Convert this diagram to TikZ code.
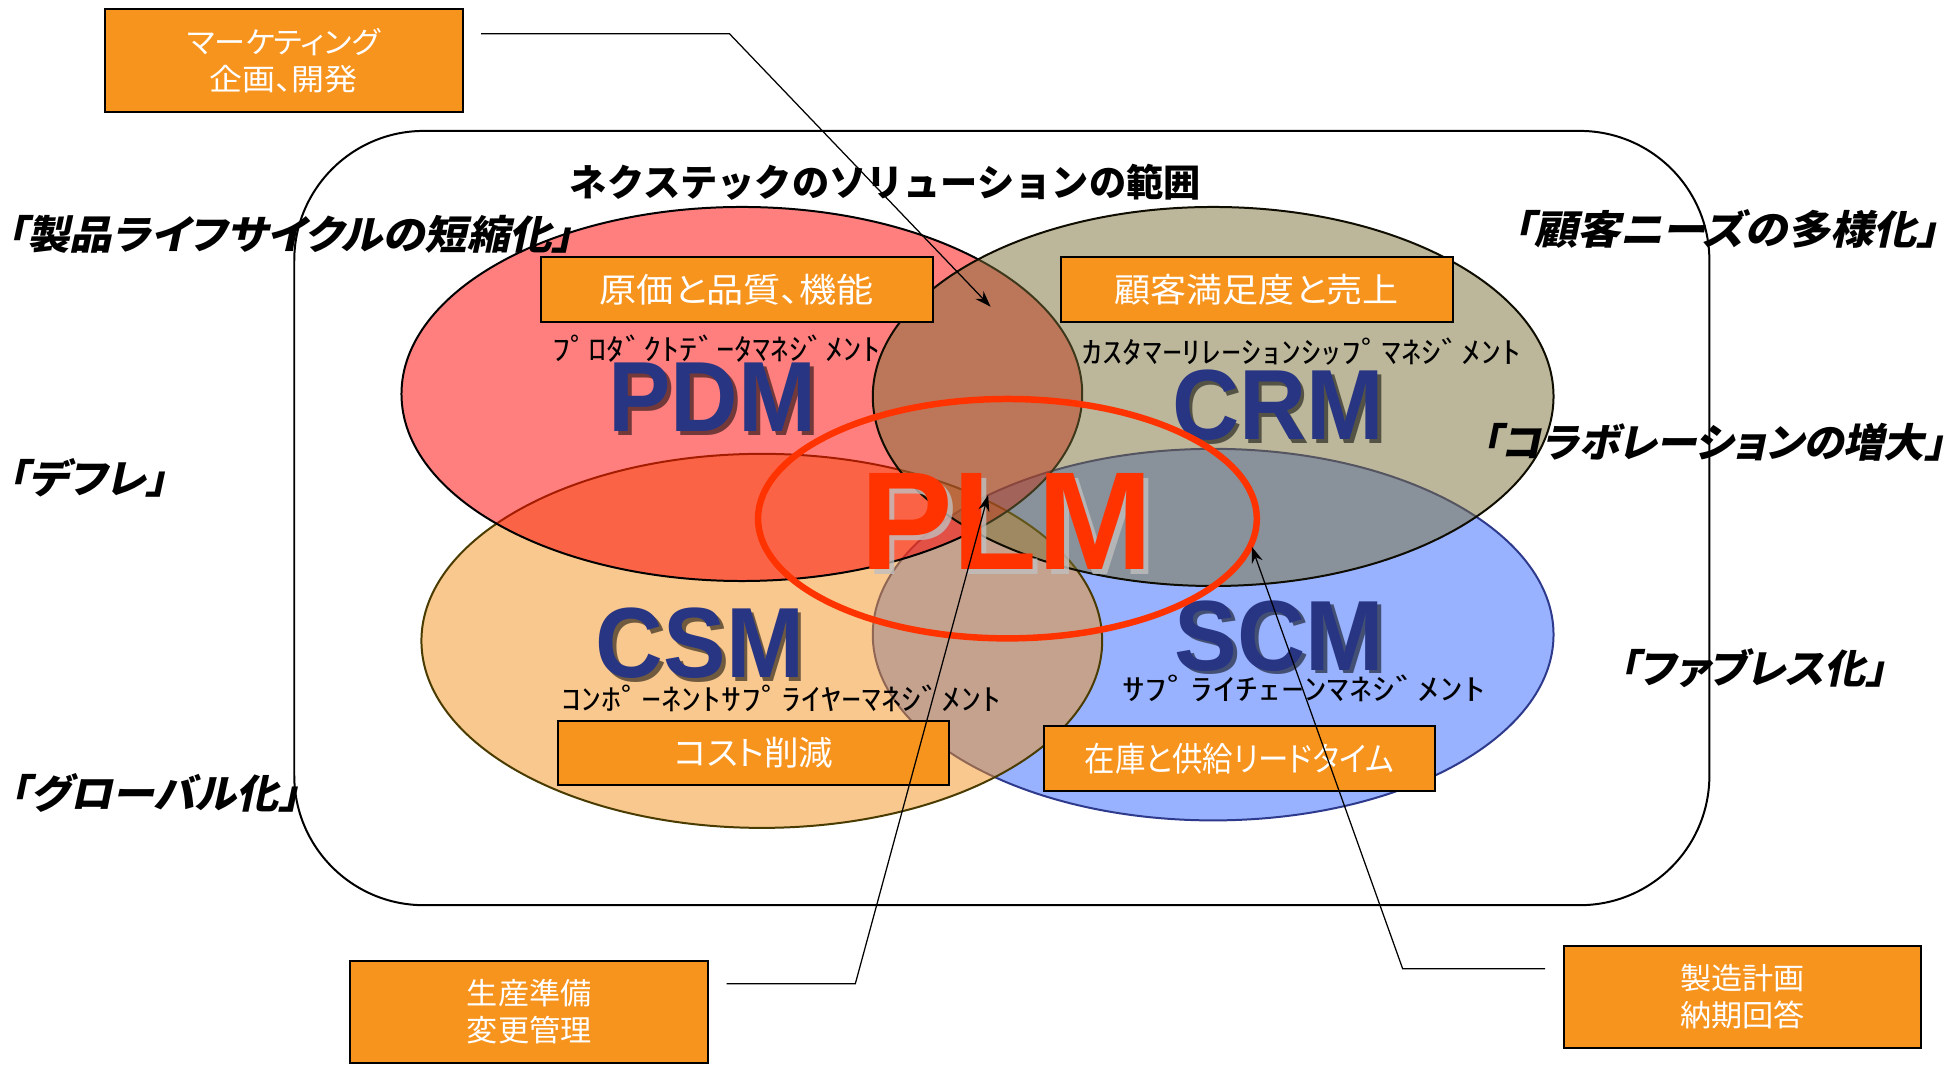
\documentclass[tikz,border=0pt]{standalone}
\usepackage{fontspec}
\usepackage{graphicx}
\usetikzlibrary{arrows.meta,calc}
\setmainfont{Noto Sans CJK JP}
\newfontfamily\jp{Noto Sans CJK JP}
\newfontfamily\jpp[RawFeature=+palt]{Noto Sans CJK JP}
\newfontfamily\jpsl[FakeSlant=0.2,RawFeature=+palt]{Noto Sans CJK JP}
\newfontfamily\lat{Liberation Sans}
\newcommand\fw[2]{\resizebox{\dimexpr #1pt/2\relax}{\height}{#2}}
\definecolor{pdmc}{HTML}{FF0000}
\definecolor{csmc}{HTML}{F3931F}
\definecolor{crmc}{HTML}{7B7137}
\definecolor{scmc}{HTML}{3367FF}
\definecolor{boxc}{HTML}{F7941E}
\definecolor{navyc}{HTML}{283583}
\definecolor{plmr}{HTML}{FF3300}
\definecolor{olivec}{HTML}{4A3C00}
\definecolor{scmb}{HTML}{2E3A8C}
\begin{document}
\begin{tikzpicture}[x=0.5pt,y=-0.5pt,
  obox/.style={draw=black, line width=0.8pt, fill=boxc, text=white, inner sep=0pt,
    align=center, minimum width=157pt, minimum height=26pt,
    font=\jpp\fontsize{13.5}{15}\selectfont},
  obox2/.style={obox, minimum width=143.5pt, minimum height=41pt,
    font=\jpp\fontsize{12}{15}\selectfont},
  lbl/.style={inner sep=0pt, font=\jpsl\bfseries\fontsize{16}{18}\selectfont},
  sublbl/.style={inner sep=0pt, font=\jp\fontsize{12}{14}\selectfont},
  big/.style={inner sep=0pt, text=navyc, font=\lat\bfseries\fontsize{40}{44}\selectfont},
  bigsh/.style={big, text=black, text opacity=0.55},
  ell/.style={line width=0.8pt, fill opacity=0.5},
  conn/.style={line width=0.5pt, draw=black},
  tip/.style={-{Stealth[length=6.5pt,width=4.5pt]}}
]
\useasboundingbox (0,0) rectangle (1568,855);
\fill[white] (0,0) rectangle (1568,855);

% scope frame
\draw[line width=0.8pt, rounded corners=52pt] (236,105) rectangle (1371,726);

% ellipses (order: SCM, CSM, PDM, CRM)
\draw[ell, draw=scmb, fill=scmc] (973,509) ellipse [x radius=273, y radius=149];
\draw[ell, draw=olivec, fill=csmc] (611,514) ellipse [x radius=273, y radius=150];
\draw[ell, draw=black, fill=pdmc] (595,316) ellipse [x radius=273, y radius=150];
\draw[ell, draw=black!80!olivec, fill=crmc] (973,318) ellipse [x radius=273, y radius=152];

% title
\node[inner sep=0pt, font=\jp\bfseries\fontsize{15}{17}\selectfont] (title) at (710,146) {\fw{506}{ネクステックのソリューションの範囲}};

% outside labels
\node[lbl] (l1) at (232.5,188) {\fw{455}{「製品ライフサイクルの短縮化」}};
\node[lbl] (l2) at (70,383) {\fw{128}{「デフレ」}};
\node[lbl] (l3) at (124,636) {\fw{233}{「グローバル化」}};
\node[lbl] (l4) at (1384,184) {\fw{342}{「顧客ニーズの多様化」}};
\node[lbl] (l5) at (1374,355) {\fw{372}{「コラボレーションの増大」}};
\node[lbl] (l6) at (1405.5,536) {\fw{215}{「ファブレス化」}};

% orange boxes
\node[obox2] (mkt) at (227.5,48.5) {\fw{155}{マーケティング}\\\fw{119}{企画、開発}};
\node[obox] (qual) at (591,232) {\fw{220}{原価と品質、機能}};
\node[obox] (cust) at (1008,232) {\fw{228}{顧客満足度と売上}};
\node[obox] (cost) at (604.5,604) {\fw{128}{コスト削減}};
\node[obox] (inv) at (994,608.5) {\fw{248}{在庫と供給リードタイム}};
\node[obox2] (prep) at (424.5,811.5) {\fw{100}{生産準備}\\\fw{100}{変更管理}};
\node[obox2] (mfg) at (1397.5,799.5) {\fw{100}{製造計画}\\\fw{100}{納期回答}};

% sub labels
\node[sublbl] (pdmj) at (574.5,280) {\fw{263}{ﾌﾟﾛﾀﾞｸﾄﾃﾞｰﾀﾏﾈｼﾞﾒﾝﾄ}};
\node[sublbl] (crmj) at (1044,282) {\fw{352}{ｶｽﾀﾏｰﾘﾚｰｼｮﾝｼｯﾌﾟﾏﾈｼﾞﾒﾝﾄ}};
\node[sublbl] (csmj) at (626.5,560) {\fw{353}{ｺﾝﾎﾟｰﾈﾝﾄｻﾌﾟﾗｲﾔｰﾏﾈｼﾞﾒﾝﾄ}};
\node[sublbl] (scmj) at (1046,552) {\fw{292}{ｻﾌﾟﾗｲﾁｪｰﾝﾏﾈｼﾞﾒﾝﾄ}};

% big labels with shadows
\node[bigsh] (pdms) at (574.5,321.5) {\fw{167}{PDM}};
\node[big] (pdm) at (571.5,318.5) {\fw{167}{PDM}};
\node[bigsh] (crms) at (1028,328) {\fw{170}{CRM}};
\node[big] (crm) at (1025,325) {\fw{170}{CRM}};
\node[bigsh] (csms) at (564.5,519) {\fw{167}{CSM}};
\node[big] (csm) at (561.5,516) {\fw{167}{CSM}};
\node[bigsh] (scms) at (1029,513) {\fw{168}{SCM}};
\node[big] (scm) at (1026,510) {\fw{168}{SCM}};

% PLM
\draw[draw=plmr, line width=2.6pt] (808,416) ellipse [x radius=200, y radius=96];
\node[inner sep=0pt, text=black!25, text opacity=0.8, font=\lat\bfseries\fontsize{56}{60}\selectfont] (plms) at (811.5,422) {\fw{235}{PLM}};
\node[inner sep=0pt, text=plmr, font=\lat\bfseries\fontsize{56}{60}\selectfont] (plm) at (807.5,418) {\fw{235}{PLM}};

% connectors
\coordinate (s1) at ($(mkt.east)+(14,-21.5)$);
\coordinate (k1) at (585,27);
\coordinate (t1) at (794.5,246);
\draw[conn, tip] (s1) -- (k1) -- (t1);

\coordinate (s2) at ($(prep.east)+(14,-22.5)$);
\coordinate (k2) at (686,789);
\coordinate (t2) at (792.5,397);
\draw[conn, tip] (s2) -- (k2) -- (t2);

\coordinate (s3) at ($(mfg.west)+(-14,-22.5)$);
\coordinate (k3) at (1125,777);
\coordinate (t3) at (1004,438.5);
\draw[conn, tip] (s3) -- (k3) -- (t3);
\end{tikzpicture}
\end{document}
